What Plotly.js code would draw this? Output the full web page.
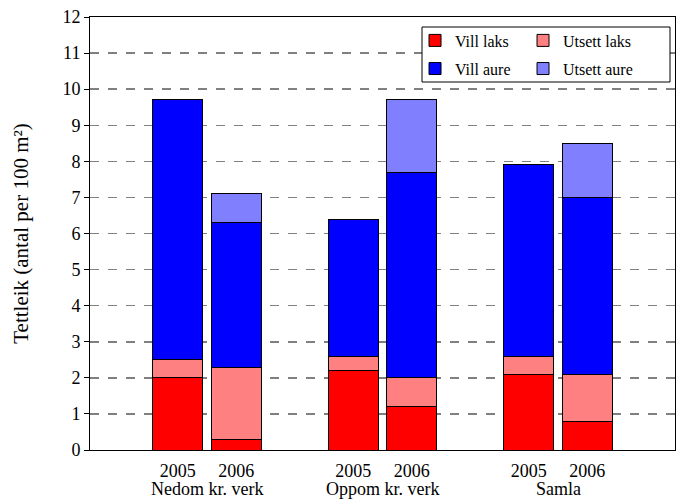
<!DOCTYPE html>
<html>
<head>
<meta charset="utf-8">
<script src="https://cdn.plot.ly/plotly-3.0.1.min.js"></script>
<style>html,body{margin:0;padding:0;background:#fff;}#chart{width:683px;height:501px;}</style>
</head>
<body>
<div id="chart"></div>
<script>
// Slot positions (0..9); empty slots at 0, 3, 6, 9
const slots = [1, 2, 4, 5, 7, 8];
const yearLabels = ["2005", "2006", "2005", "2006", "2005", "2006"];
const groupLabels = ["Nedom kr. verk", "Oppom kr. verk", "Samla"];
const groupCenters = [1.5, 4.5, 7.5];

const villLaks   = [2.0, 0.3, 2.2, 1.2, 2.1, 0.8];
const utsettLaks = [0.5, 2.0, 0.4, 0.8, 0.5, 1.3];
const villAure   = [7.2, 4.0, 3.8, 5.7, 5.3, 4.9];
const utsettAure = [0.0, 0.8, 0.0, 2.0, 0.0, 1.5];

const FONT = "Liberation Serif, Times New Roman, serif";

function bar(name, y, color, legend) {
  return {
    type: "bar", name: name, x: slots, y: y, width: 0.86,
    marker: {color: color, line: {color: "#000", width: 1}},
    legend: legend, hoverinfo: "skip"
  };
}

const data = [
  bar("Vill laks", villLaks, "#FF0000", "legend"),
  bar("Utsett laks", utsettLaks, "#FF8080", "legend2"),
  bar("Vill aure", villAure, "#0000FF", "legend3"),
  bar("Utsett aure", utsettAure, "#8080FF", "legend4")
];

const annotations = groupLabels.map((t, i) => ({
  text: t, x: groupCenters[i], xref: "x", y: -0.062, yref: "paper",
  yanchor: "top", showarrow: false, font: {family: FONT, size: 18, color: "#000"}
}));

function leg(x, y) {
  return {
    x: x, y: y, orientation: "h", xanchor: "left", yanchor: "top",
    bgcolor: "rgba(0,0,0,0)", borderwidth: 0,
    font: {family: FONT, size: 16, color: "#000"}
  };
}

const layout = {
  width: 683, height: 501,
  margin: {l: 90, r: 8, t: 17, b: 51},
  paper_bgcolor: "#fff", plot_bgcolor: "#fff",
  barmode: "stack",
  showlegend: true,
  font: {family: FONT, size: 18, color: "#000"},
  xaxis: {
    range: [-0.5, 9.5], tickvals: slots, ticktext: yearLabels,
    showgrid: false, zeroline: false, showline: true, linecolor: "#000", linewidth: 1,
    mirror: true, ticks: "", tickfont: {family: FONT, size: 18, color: "#000"}, ticklabelstandoff: 4
  },
  yaxis: {
    range: [0, 12], dtick: 1, tick0: 0,
    showgrid: true, gridcolor: "#808080", gridwidth: 1.5, griddash: "dash",
    zeroline: false, showline: true, linecolor: "#000", linewidth: 1, mirror: true,
    ticks: "outside", ticklen: 5, tickcolor: "#000",
    tickfont: {family: FONT, size: 18, color: "#000"},
    title: {text: "Tettleik (antal per 100 m²)", font: {family: FONT, size: 21, color: "#000"}, standoff: 28}
  },
  legend: leg(0.5556, 0.985),
  legend2: leg(0.7402, 0.985),
  legend3: leg(0.5556, 0.92),
  legend4: leg(0.7402, 0.92),
  annotations: annotations,
  shapes: [{
    type: "rect", xref: "paper", yref: "paper",
    x0: (422 - 90) / 585, x1: (670 - 90) / 585,
    y0: (450 - 82) / 433, y1: (450 - 27) / 433,
    line: {color: "#000", width: 1}, fillcolor: "#fff", layer: "above"
  }]
};

Plotly.newPlot("chart", data, layout, {displayModeBar: false, staticPlot: true});
</script>
</body>
</html>
